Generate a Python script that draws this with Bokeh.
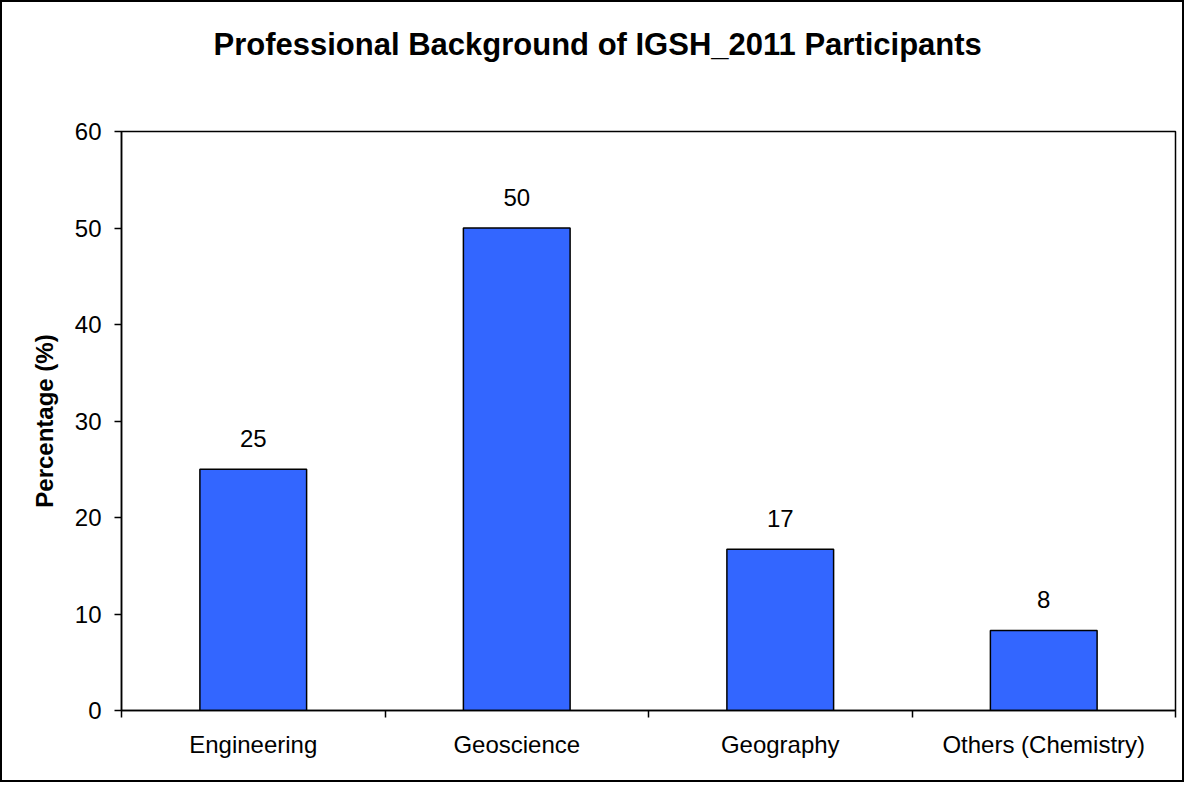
from bokeh.plotting import figure
from bokeh.models import ColumnDataSource, Range1d, FixedTicker, LabelSet, Title
from bokeh.core.properties import value
from bokeh.embed import file_html
from bokeh.resources import INLINE

title_text = "Professional Background of IGSH_2011 Participants"
categories = ["Engineering", "Geoscience", "Geography", "Others (Chemistry)"]
percentages = [25.0, 50.0, 16.7, 8.3]
value_labels = ["25", "50", "17", "8"]
y_ticks = [0, 10, 20, 30, 40, 50, 60]

FONT = "Liberation Sans"

xpos = [i + 0.5 for i in range(len(categories))]
src = ColumnDataSource(dict(x=xpos, top=percentages, lab=value_labels))

p = figure(width=1184, height=782, output_backend="svg", toolbar_location=None,
           x_range=Range1d(0, len(categories)), y_range=Range1d(0, 60),
           min_border_left=119, min_border_right=11, min_border_bottom=74, min_border_top=0)
p.styles = {"border": "2px solid black"}

p.vbar(x="x", top="top", width=0.405, bottom=0, source=src,
       fill_color="#3366FF", line_color="black", line_width=1.5)

labels = LabelSet(x="x", y="top", text="lab", source=src, text_align="center",
                  text_baseline="alphabetic", y_offset=22, text_font_size="24px",
                  text_font=value(FONT), text_color="black")
p.add_layout(labels)

# empty spacer title (next to the plot area) and the chart title above it
spacer = Title(text=" ", align="left", vertical_align="middle", standoff=32,
               text_font=FONT, text_font_size="10px", text_color="white")
main_title = Title(text=title_text, align="left", offset=92, vertical_align="middle",
                   standoff=47, text_font=FONT, text_font_size="31px",
                   text_font_style="bold", text_color="black")
p.add_layout(spacer, "above")
p.add_layout(main_title, "above")

p.xgrid.visible = False
p.ygrid.visible = False
p.outline_line_color = "black"
p.outline_line_width = 1.5

# x axis
xt = FixedTicker(ticks=xpos, minor_ticks=list(range(len(categories) + 1)))
p.xaxis.ticker = xt
p.xaxis.major_label_overrides = {x: c for x, c in zip(xpos, categories)}
p.xaxis.major_tick_out = 0
p.xaxis.major_tick_in = 0
p.xaxis.minor_tick_out = 7
p.xaxis.minor_tick_in = 0
p.xaxis.minor_tick_line_color = "black"
p.xaxis.minor_tick_line_width = 1.5
p.xaxis.axis_line_color = "black"
p.xaxis.axis_line_width = 1.5
p.xaxis.major_label_text_font = FONT
p.xaxis.major_label_text_font_size = "24px"
p.xaxis.major_label_text_color = "black"
p.xaxis.major_label_standoff = 13

# y axis
p.yaxis.ticker = FixedTicker(ticks=y_ticks, minor_ticks=[])
p.yaxis.major_tick_out = 7
p.yaxis.major_tick_in = 0
p.yaxis.major_tick_line_color = "black"
p.yaxis.major_tick_line_width = 1.5
p.yaxis.axis_line_color = "black"
p.yaxis.axis_line_width = 1.5
p.yaxis.major_label_text_font = FONT
p.yaxis.major_label_text_font_size = "24px"
p.yaxis.major_label_text_color = "black"
p.yaxis.major_label_standoff = 13
p.yaxis.axis_label = "Percentage (%)"
p.yaxis.axis_label_text_font = FONT
p.yaxis.axis_label_text_font_size = "24px"
p.yaxis.axis_label_text_font_style = "bold"
p.yaxis.axis_label_text_color = "black"
p.yaxis.axis_label_standoff = 14

open("out.html", "w").write(file_html(p, INLINE))
